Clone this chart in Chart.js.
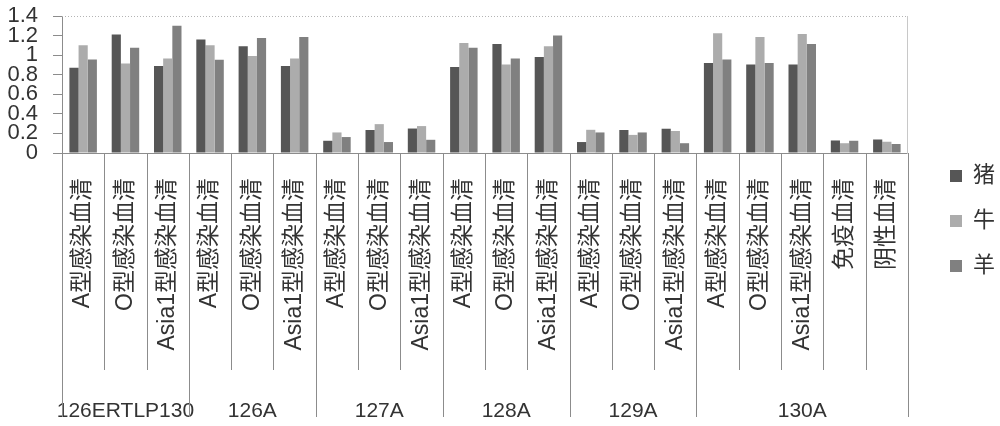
<!DOCTYPE html>
<html>
<head>
<meta charset="utf-8">
<script src="https://cdn.jsdelivr.net/npm/chart.js@4.4.1/dist/chart.umd.min.js"></script>
<style>
  html, body { margin: 0; padding: 0; background: #ffffff; }
  #wrap { width: 1000px; height: 426px; position: relative; }
</style>
</head>
<body>
<div id="wrap"><canvas id="c"></canvas></div>
<script>
// ---- data ----
const categories = [
  'A型感染血清', 'O型感染血清', 'Asia1型感染血清',
  'A型感染血清', 'O型感染血清', 'Asia1型感染血清',
  'A型感染血清', 'O型感染血清', 'Asia1型感染血清',
  'A型感染血清', 'O型感染血清', 'Asia1型感染血清',
  'A型感染血清', 'O型感染血清', 'Asia1型感染血清',
  'A型感染血清', 'O型感染血清', 'Asia1型感染血清', '免疫血清', '阴性血清'
];
const groupNames = ['126ERTLP130', '126A', '127A', '128A', '129A', '130A'];
const groupSizes = [3, 3, 3, 3, 3, 5];
const seriesNames = ['猪', '牛', '羊'];
const pigValues    = [0.87, 1.21, 0.89, 1.16, 1.09, 0.89, 0.125, 0.235, 0.25, 0.88, 1.115, 0.98, 0.112, 0.235, 0.248, 0.92, 0.905, 0.905, 0.128, 0.138];
const cattleValues = [1.10, 0.915, 0.965, 1.10, 0.99, 0.965, 0.21, 0.295, 0.275, 1.125, 0.905, 1.09, 0.237, 0.185, 0.225, 1.225, 1.185, 1.215, 0.10, 0.115];
const sheepValues  = [0.955, 1.075, 1.30, 0.952, 1.175, 1.186, 0.163, 0.112, 0.135, 1.075, 0.966, 1.20, 0.21, 0.21, 0.10, 0.956, 0.92, 1.115, 0.125, 0.092];
const yMin = 0, yMax = 1.4, yStep = 0.2;

// ---- derived helpers ----
const groupAxisLabels = [];
const groupBoundaries = new Set([0]);
(function () {
  let idx = 0;
  groupSizes.forEach((size, g) => {
    for (let k = 0; k < size; k++) {
      groupAxisLabels.push(k === Math.floor(size / 2) ? groupNames[g] : '');
    }
    idx += size;
    groupBoundaries.add(idx);
  });
})();

const FONT = '"Liberation Sans", "Noto Sans CJK SC", sans-serif';
const colors = ['#565656', '#acacac', '#808080'];

const separatorPlugin = {
  id: 'separators',
  beforeDatasetsDraw(chart) {
    const { ctx, chartArea } = chart;
    ctx.save();
    ctx.strokeStyle = '#b4b4b4';
    ctx.lineWidth = 1;
    ctx.setLineDash([1, 2]);
    ctx.beginPath();
    ctx.moveTo(chartArea.left, Math.round(chartArea.top) + 0.5);
    ctx.lineTo(chartArea.right, Math.round(chartArea.top) + 0.5);
    ctx.stroke();
    ctx.restore();
  },
  afterDraw(chart) {
    const { ctx, chartArea, scales } = chart;
    const x = scales.x;
    ctx.save();
    ctx.strokeStyle = '#8c8c8c';
    ctx.lineWidth = 1;
    for (let i = 0; i <= categories.length; i++) {
      const px = Math.round(x.getPixelForValue(i - 0.5)) + 0.5;
      const long = groupBoundaries.has(i);
      ctx.beginPath();
      ctx.moveTo(px, chartArea.bottom);
      ctx.lineTo(px, long ? chart.height - 9 : chartArea.bottom + 217);
      ctx.stroke();
    }
    ctx.restore();
  }
};

new Chart(document.getElementById('c'), {
  type: 'bar',
  data: {
    labels: categories,
    datasets: [
      { label: seriesNames[0], data: pigValues, backgroundColor: colors[0] },
      { label: seriesNames[1], data: cattleValues, backgroundColor: colors[1] },
      { label: seriesNames[2], data: sheepValues, backgroundColor: colors[2] }
    ]
  },
  options: {
    responsive: true,
    maintainAspectRatio: false,
    animation: false,
    devicePixelRatio: 1,
    categoryPercentage: 0.65,
    barPercentage: 1.0,
    layout: { padding: { top: 16, right: -5, bottom: 0, left: 0 } },
    plugins: {
      tooltip: { enabled: false },
      legend: {
        position: 'right',
        labels: {
          boxWidth: 12,
          boxHeight: 12,
          padding: 23,
          color: '#333333',
          font: { family: FONT, size: 22 }
        }
      }
    },
    scales: {
      x: {
        type: 'category',
        position: 'bottom',
        offset: true,
        grid: { display: false, drawTicks: false },
        border: { display: true, color: '#8c8c8c', width: 1 },
        ticks: {
          autoSkip: false,
          minRotation: 90,
          maxRotation: 90,
          padding: 25,
          color: '#333333',
          font: { family: FONT, size: 23 }
        },
        afterFit: (s) => { s.height = 243; }
      },
      x2: {
        type: 'category',
        position: 'bottom',
        labels: groupAxisLabels,
        offset: true,
        grid: { display: false, drawTicks: false },
        border: { display: false },
        ticks: {
          autoSkip: false,
          maxRotation: 0,
          minRotation: 0,
          padding: 3,
          color: '#333333',
          font: { family: FONT, size: 21 }
        },
        afterFit: (s) => { s.height = 30; }
      },
      y: {
        type: 'linear',
        position: 'left',
        min: yMin,
        max: yMax,
        ticks: {
          stepSize: yStep,
          autoSkip: false,
          padding: 15,
          color: '#333333',
          font: { family: FONT, size: 22 },
          callback: (v) => String(parseFloat(Number(v).toFixed(1)))
        },
        grid: { drawOnChartArea: false, drawTicks: true, tickLength: 9, tickColor: '#8c8c8c' },
        border: { display: true, color: '#8c8c8c', width: 1 },
        afterFit: (s) => { s.width = 62; s.paddingTop = 0; s.paddingBottom = 0; }
      },
      yR: {
        type: 'linear',
        position: 'right',
        display: true,
        ticks: { display: false },
        grid: { display: false, drawTicks: false },
        border: { display: true, color: '#c8c8c8', width: 1 },
        afterFit: (s) => { s.width = 19; s.paddingTop = 0; s.paddingBottom = 0; }
      }
    }
  },
  plugins: [separatorPlugin]
});
</script>
</body>
</html>
